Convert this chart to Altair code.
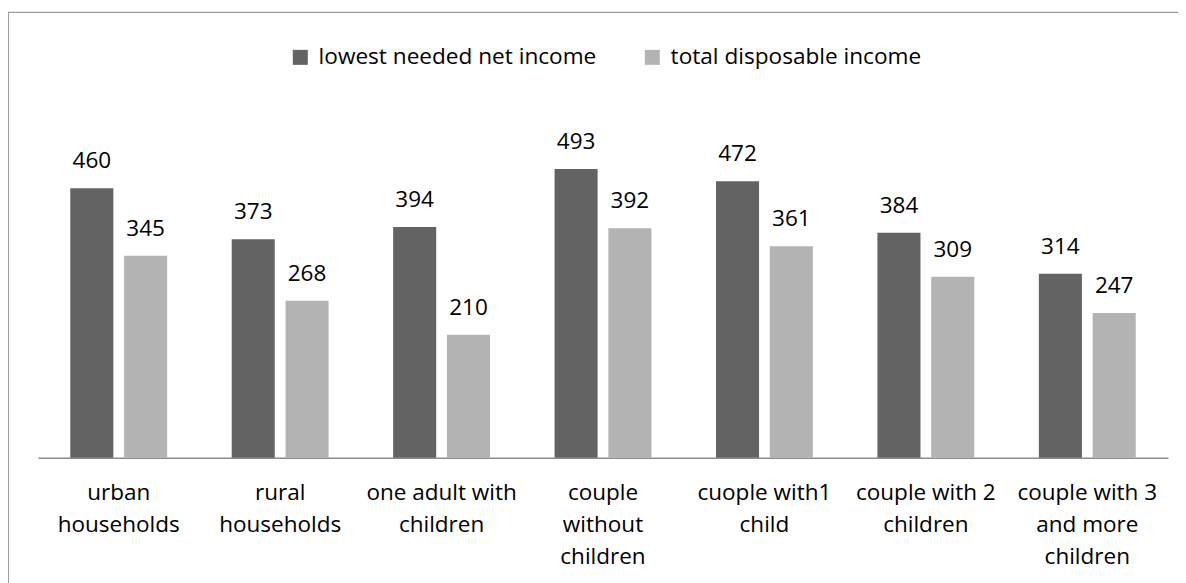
import altair as alt
import pandas as pd

categories = [
    "urban|households",
    "rural|households",
    "one adult with|children",
    "couple|without|children",
    "cuople with1|child",
    "couple with 2|children",
    "couple with 3|and more|children",
]
series_names = ["lowest needed net income", "total disposable income"]
lowest_needed = [460, 373, 394, 493, 472, 384, 314]
total_disposable = [345, 268, 210, 392, 361, 309, 247]
colors = ["#636363", "#b3b3b3"]

rows = []
for i, c in enumerate(categories):
    rows.append({"category": c, "series": series_names[0], "value": lowest_needed[i]})
    rows.append({"category": c, "series": series_names[1], "value": total_disposable[i]})
df = pd.DataFrame(rows)

FONT = "Open Sans"

x_enc = alt.X(
    "category:N",
    sort=categories,
    scale=alt.Scale(paddingInner=0.4, paddingOuter=0.2),
    axis=alt.Axis(
        title=None,
        labelExpr="split(datum.label, '|')",
        labelAngle=0,
        labelFontSize=22.5,
        labelFont=FONT,
        labelColor="#000000",
        labelLineHeight=32,
        labelBaseline="alphabetic",
        labelPadding=42,
        labelLimit=400,
        ticks=False,
        domainColor="#8c8c8c",
        domainWidth=1.5,
        grid=False,
    ),
)
xoff = alt.XOffset("series:N", sort=series_names, scale=alt.Scale(paddingInner=0.2, paddingOuter=0))
y_enc = alt.Y("value:Q", scale=alt.Scale(domain=[0, 600], nice=False, zero=True), axis=None)

bars = alt.Chart(df).mark_bar().encode(
    x=x_enc,
    xOffset=xoff,
    y=y_enc,
    color=alt.Color(
        "series:N",
        sort=series_names,
        scale=alt.Scale(domain=series_names, range=colors),
        legend=alt.Legend(
            title=None,
            orient="none",
            direction="horizontal",
            legendX=251,
            legendY=-60.4,
            symbolType="square",
            symbolSize=225,
            symbolStrokeWidth=0,
            labelFont=FONT,
            labelFontSize=22.6,
            labelColor="#000000",
            labelOffset=7,
            labelLimit=500,
            columnPadding=44,
            padding=0,
        ),
    ),
)

labels = alt.Chart(df).mark_text(
    dy=-20, baseline="alphabetic", align="center", font=FONT, fontSize=22.5, color="#000000"
).encode(
    x=alt.X("category:N", sort=categories),
    xOffset=alt.XOffset("series:N", sort=series_names),
    y=alt.Y("value:Q"),
    text=alt.Text("value:Q"),
)

border = alt.Chart(pd.DataFrame({"a": [0]})).mark_rect(
    fillOpacity=0, stroke="#9a9a9a", strokeWidth=1.3
).encode(
    x=alt.value(-29.7), x2=alt.value(1300), y=alt.value(-94.1), y2=alt.value(700)
)

chart = alt.layer(border, bars, labels).properties(
    width=1130,
    height=351.3,
    background="#ffffff",
    autosize=alt.AutoSizeParams(type="none"),
    padding={"left": 30, "top": 98.4, "right": 10, "bottom": 125.3},
).configure_view(strokeWidth=0, stroke=None)

chart.save("out.html", embed_options={"renderer": "svg", "actions": False})
